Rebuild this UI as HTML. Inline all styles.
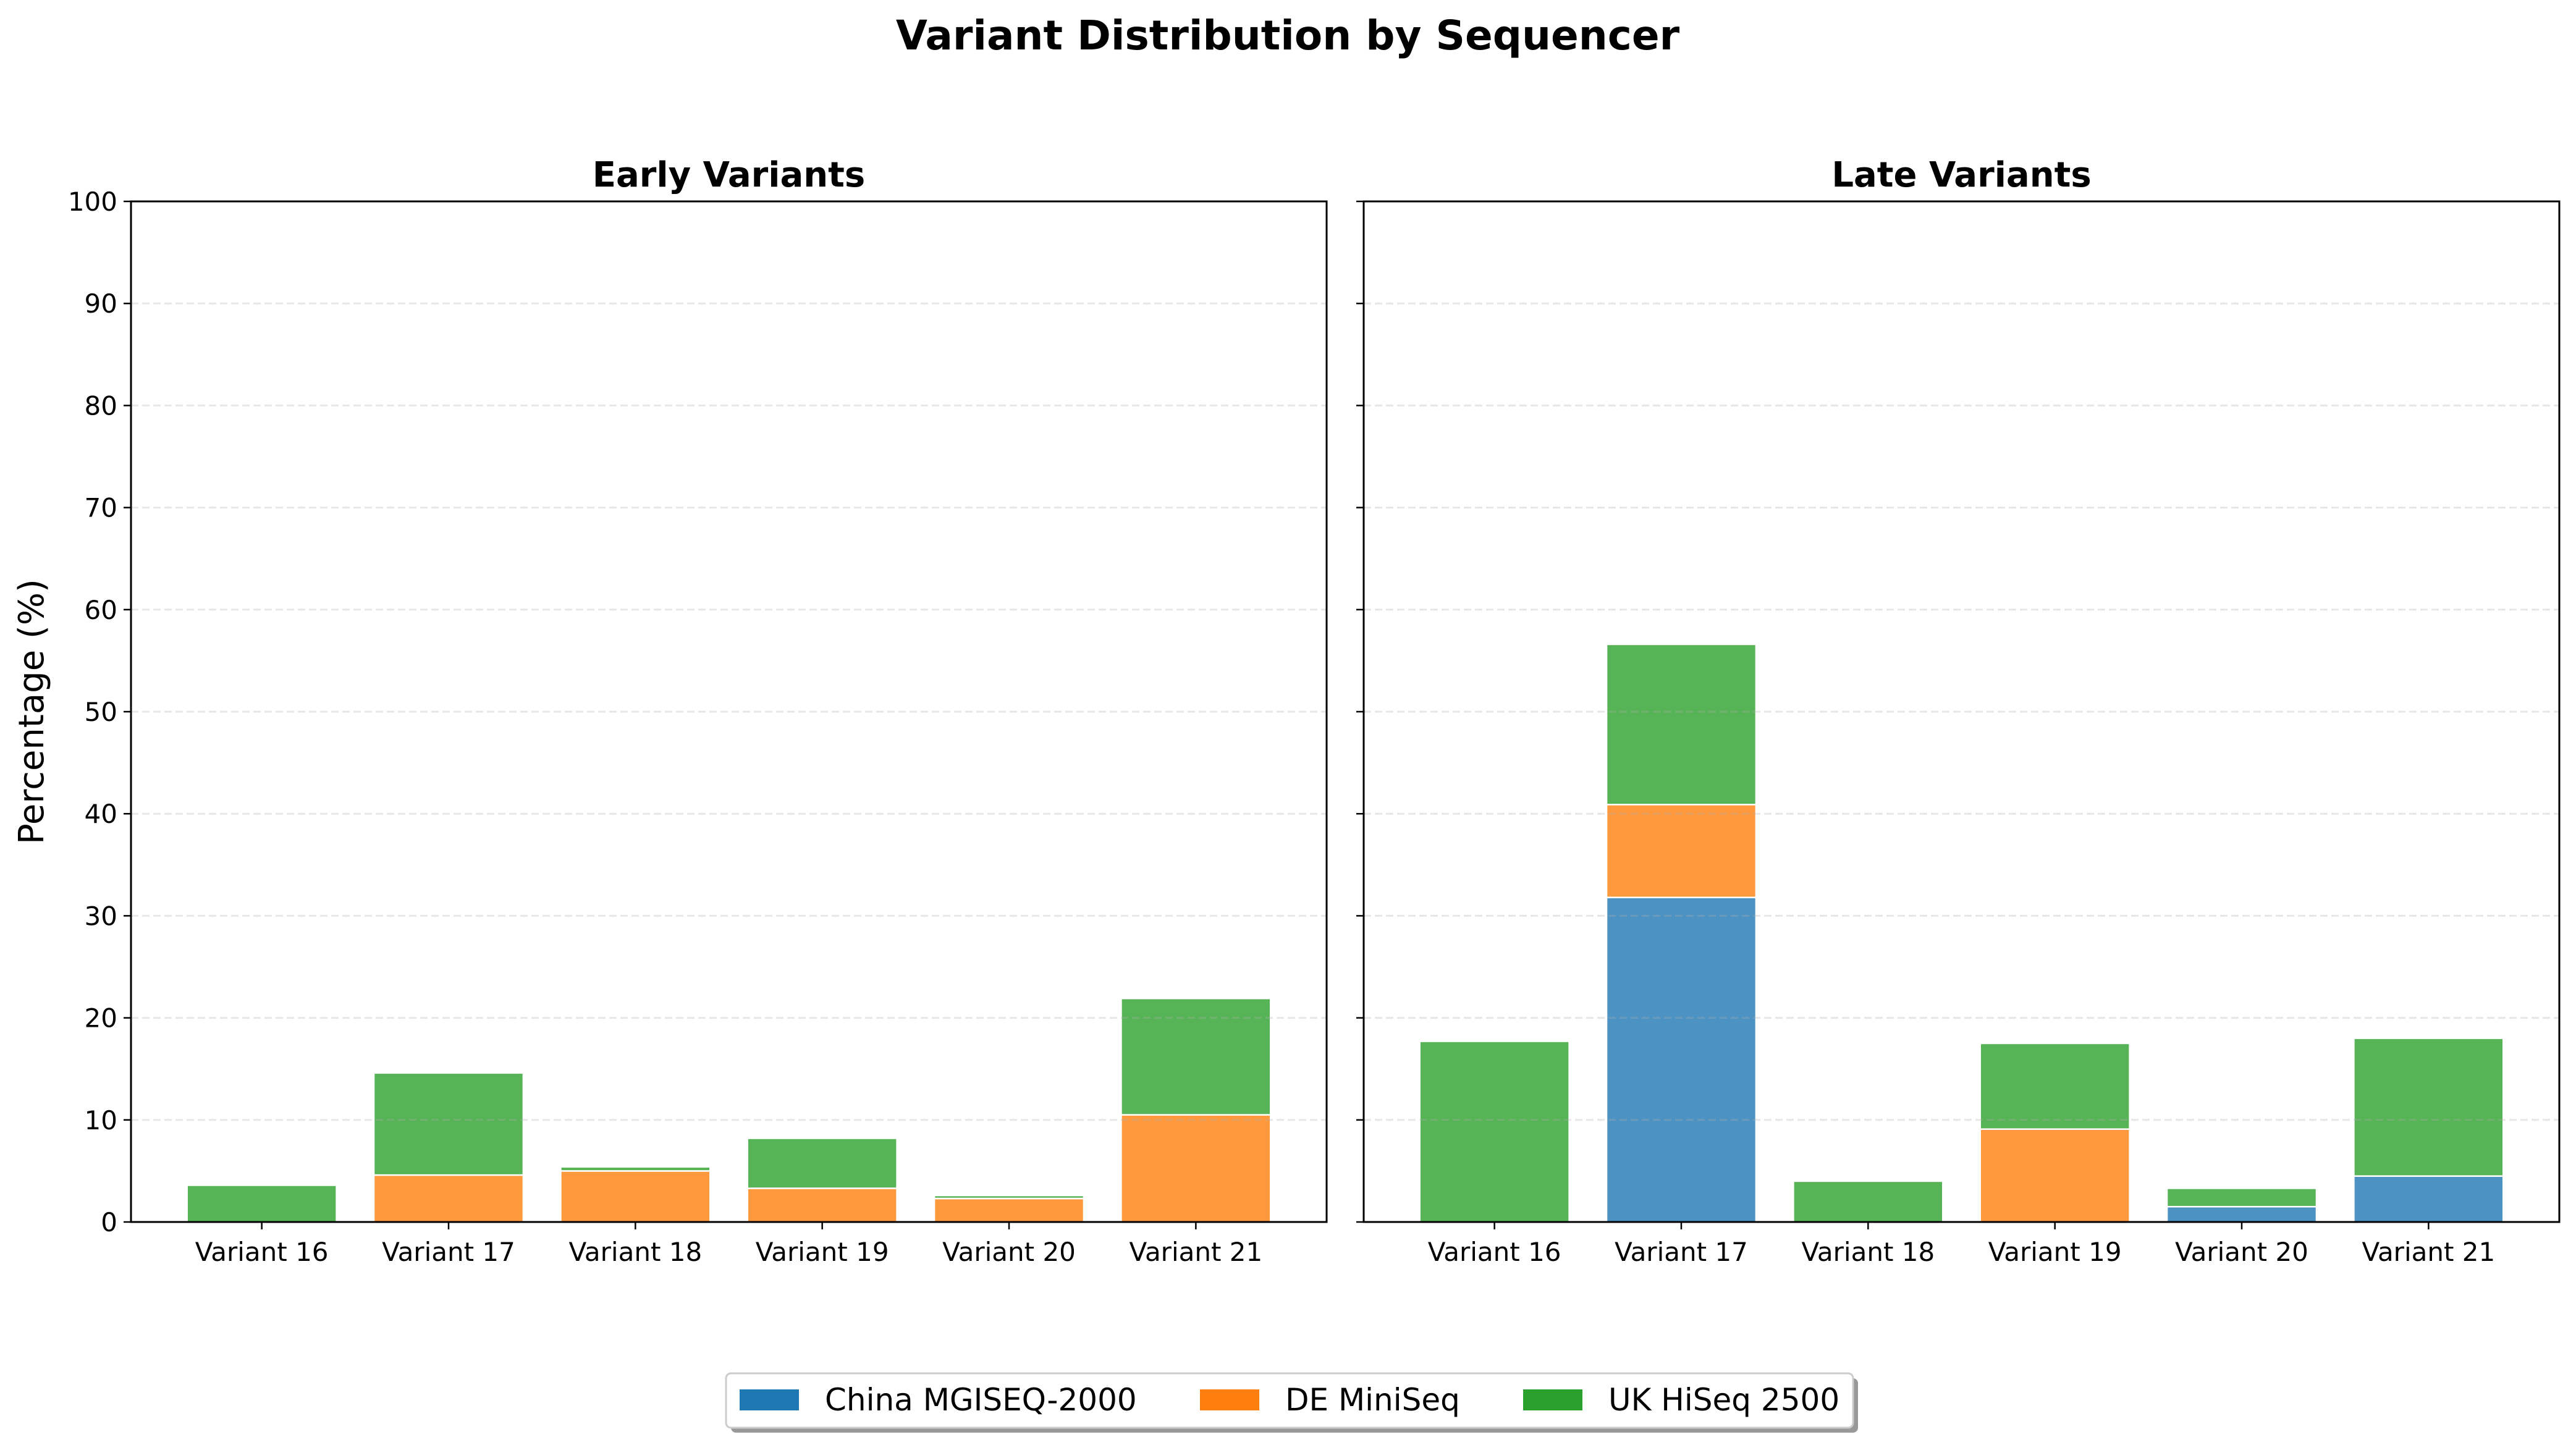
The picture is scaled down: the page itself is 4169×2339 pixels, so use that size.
<!DOCTYPE html>
<html><head><meta charset="utf-8"><style>
html,body{margin:0;padding:0;background:#fff;}
svg{display:block;font-family:"DejaVu Sans","Liberation Sans",sans-serif;}
</style></head><body>
<svg id="chart" width="4169" height="2339" viewBox="0 0 4169 2339" xmlns="http://www.w3.org/2000/svg">
<rect width="4169" height="2339" fill="#fff"/>
<text x="2084" y="80" font-size="66" font-weight="bold" text-anchor="middle">Variant Distribution by Sequencer</text>
<text transform="translate(70,1152) rotate(-90)" font-size="56" text-anchor="middle">Percentage (%)</text>
<g id="plots"></g>
<g>
<rect x="1183" y="2231" width="1824" height="88" rx="8" fill="#999"/>
<rect x="1175" y="2223" width="1824" height="88" rx="8" fill="#fff" stroke="#ccc" stroke-width="3"/>
<rect x="1197" y="2249" width="96" height="34" fill="#1f77b4"/>
<text x="1335" y="2283" font-size="50">China MGISEQ-2000</text>
<rect x="1942" y="2249" width="96" height="34" fill="#ff7f0e"/>
<text x="2080" y="2283" font-size="50">DE MiniSeq</text>
<rect x="2465" y="2249" width="96" height="34" fill="#2ca02c"/>
<text x="2603" y="2283" font-size="50">UK HiSeq 2500</text>
</g>
</svg>
<script>
const categories = ["Variant 16","Variant 17","Variant 18","Variant 19","Variant 20","Variant 21"];
const yTicks = [0,10,20,30,40,50,60,70,80,90,100];
const earlyChina = [0,0,0,0,0,0];
const earlyDE = [0,4.6,5.0,3.3,2.3,10.5];
const earlyUK = [3.6,10.0,0.4,4.9,0.3,11.4];
const lateChina = [0,31.8,0,0,1.5,4.5];
const lateDE = [0,9.1,0,9.1,0,0];
const lateUK = [17.7,15.7,4.0,8.4,1.8,13.5];
const seriesColors = ["#1f77b4","#ff7f0e","#2ca02c"];
const seriesNames = ["china","de","uk"];

const NS = "http://www.w3.org/2000/svg";
const plots = document.getElementById("plots");
const top0 = 326, bot0 = 1978;
function mk(tag, attrs, parent){const e=document.createElementNS(NS,tag);for(const k in attrs)e.setAttribute(k,attrs[k]);parent.appendChild(e);return e;}

function panel(x0, x1, title, series, showLabels, pname){
  const g = mk("g",{},plots);
  
  
  const y = v => bot0 - (v/100)*(bot0-top0);
  const xs = i => x0 + (i+0.7)/6.4*(x1-x0);
  const bw = 0.8/6.4*(x1-x0);
  // bars
  for(let i=0;i<categories.length;i++){
    let base=0;
    for(let s=0;s<3;s++){
      const v=series[s][i];
      if(v<=0) continue;
      const r=mk("rect",{x:xs(i)-bw/2,y:y(base+v),width:bw,height:y(base)-y(base+v),fill:seriesColors[s],"fill-opacity":0.8,stroke:"#fff","stroke-width":2.5},g);
      
      
      base+=v;
    }
  }
  // grid
  for(const t of yTicks){
    if(t===0||t===100) continue;
    const l=mk("line",{x1:x0,x2:x1,y1:y(t),y2:y(t),stroke:"#b0b0b0","stroke-opacity":0.3,"stroke-width":3,"stroke-dasharray":"12 6"},g);
    
    
  }
  // y ticks
  for(const t of yTicks){
    const tk=mk("line",{x1:x0-12,x2:x0,y1:y(t),y2:y(t),stroke:"#000","stroke-width":2.5},g);
    
    
    if(showLabels){
      const tx=mk("text",{x:x0-22,y:y(t)+15,"font-size":42,"text-anchor":"end"},g);
      tx.textContent=t;
      
      
    }
  }
  // x ticks
  for(let i=0;i<categories.length;i++){
    const tk=mk("line",{x1:xs(i),x2:xs(i),y1:bot0,y2:bot0+12,stroke:"#000","stroke-width":2.5},g);
    
    
    const tx=mk("text",{x:xs(i),y:bot0+63,"font-size":42,"text-anchor":"middle"},g);
    tx.textContent=categories[i];
    
    
  }
  const fr=mk("rect",{x:x0,y:top0,width:x1-x0,height:bot0-top0,fill:"none",stroke:"#000","stroke-width":3},g);
  
  
  const tt=mk("text",{x:(x0+x1)/2,y:302,"font-size":56,"font-weight":"bold","text-anchor":"middle"},g);
  tt.textContent=title;
  
  
}
panel(212,2147,"Early Variants",[earlyChina,earlyDE,earlyUK],true,"early-variants-panel");
panel(2207,4142,"Late Variants",[lateChina,lateDE,lateUK],false,"late-variants-panel");
</script>
</body></html>
